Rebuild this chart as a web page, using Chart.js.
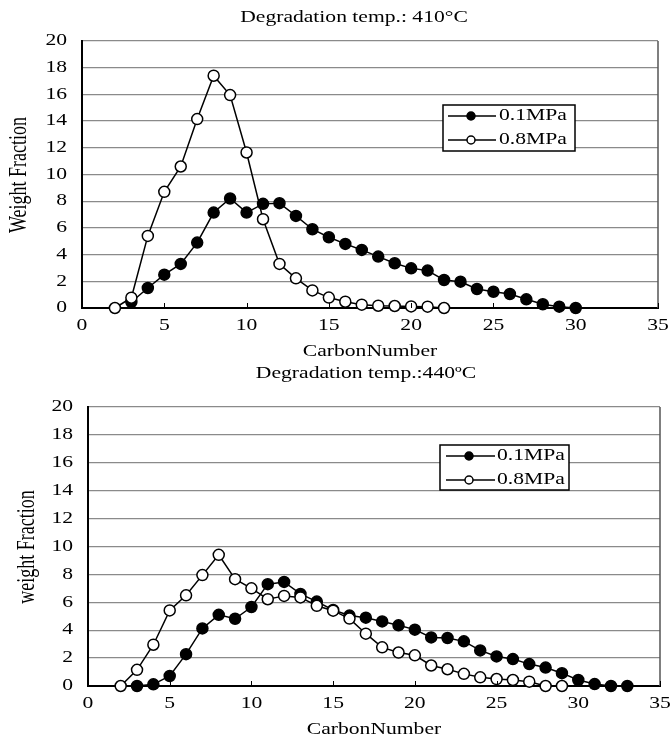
<!DOCTYPE html>
<html>
<head>
<meta charset="utf-8">
<script src="https://cdn.jsdelivr.net/npm/chart.js@4.4.1/dist/chart.umd.min.js"></script>
<style>
  html, body { margin: 0; padding: 0; background: #fff; }
  canvas { display: block; }
</style>
</head>
<body>
<canvas id="chart410" width="670" height="360"></canvas>
<canvas id="chart440" width="670" height="378"></canvas>
<script>
// Data
const seriesNames = ['0.1MPa', '0.8MPa'];
const xTicks = [0, 5, 10, 15, 20, 25, 30, 35];
const yTicks = [0, 2, 4, 6, 8, 10, 12, 14, 16, 18, 20];

// 410 °C
const carbon410Low = [3, 4, 5, 6, 7, 8, 9, 10, 11, 12, 13, 14, 15, 16, 17, 18, 19, 20, 21, 22, 23, 24, 25, 26, 27, 28, 29, 30];
const weight410Low = [0.45, 1.5, 2.5, 3.3, 4.9, 7.15, 8.2, 7.15, 7.8, 7.85, 6.9, 5.9, 5.3, 4.8, 4.35, 3.85, 3.35, 2.97, 2.8, 2.1, 1.97, 1.42, 1.22, 1.05, 0.65, 0.28, 0.1, 0.0];
const carbon410High = [2, 3, 4, 5, 6, 7, 8, 9, 10, 11, 12, 13, 14, 15, 16, 17, 18, 19, 20, 21, 22];
const weight410High = [0, 0.77, 5.4, 8.7, 10.6, 14.15, 17.4, 15.95, 11.65, 6.65, 3.3, 2.22, 1.32, 0.78, 0.47, 0.25, 0.17, 0.15, 0.12, 0.1, 0.0];

// 440 °C
const carbon440Low = [3, 4, 5, 6, 7, 8, 9, 10, 11, 12, 13, 14, 15, 16, 17, 18, 19, 20, 21, 22, 23, 24, 25, 26, 27, 28, 29, 30, 31, 32, 33];
const weight440Low = [0, 0.12, 0.72, 2.28, 4.13, 5.1, 4.82, 5.66, 7.3, 7.46, 6.6, 6.05, 5.45, 5.05, 4.9, 4.63, 4.35, 4.04, 3.48, 3.44, 3.2, 2.55, 2.12, 1.93, 1.57, 1.32, 0.92, 0.43, 0.14, 0, 0];
const carbon440High = [2, 3, 4, 5, 6, 7, 8, 9, 10, 11, 12, 13, 14, 15, 16, 17, 18, 19, 20, 21, 22, 23, 24, 25, 26, 27, 28, 29];
const weight440High = [0, 1.16, 2.96, 5.42, 6.5, 7.95, 9.4, 7.66, 7.0, 6.22, 6.46, 6.35, 5.75, 5.4, 4.83, 3.75, 2.77, 2.4, 2.2, 1.47, 1.2, 0.87, 0.62, 0.5, 0.43, 0.31, 0, 0];

const FONT = '"Liberation Serif", "Times New Roman", serif';
const SX = 1.35; // the source figure is stretched sideways

function toPoints(xs, ys) {
    return xs.map((x, i) => ({ x: x, y: ys[i] }));
}

// text drawn with the sideways stretch of the original
function stretchText(ctx, text, x, y, size, align, rotate) {
    ctx.save();
    ctx.translate(x, y);
    ctx.scale(SX, 1);
    if (rotate) ctx.rotate(-Math.PI / 2);
    ctx.font = size + 'px ' + FONT;
    ctx.fillStyle = '#000';
    ctx.textAlign = align;
    ctx.textBaseline = 'middle';
    ctx.fillText(text, 0, 0);
    ctx.restore();
}

// Titles, tick labels, inner ticks, right border and legend
const decorPlugin = {
    id: 'decor',
    afterDraw(chart, args, opts) {
        const ctx = chart.ctx;
        const area = chart.chartArea;
        const xs = chart.scales.x, ys = chart.scales.y;

        // right border
        ctx.save();
        ctx.strokeStyle = '#555';
        ctx.lineWidth = 1.5;
        ctx.beginPath();
        ctx.moveTo(area.right, area.top);
        ctx.lineTo(area.right, area.bottom);
        ctx.stroke();

        // inner tick marks on the x axis
        ctx.strokeStyle = '#000';
        ctx.lineWidth = 1;
        xTicks.forEach(v => {
            const px = Math.round(xs.getPixelForValue(v)) + 0.5;
            ctx.beginPath();
            ctx.moveTo(px, area.bottom);
            ctx.lineTo(px, area.bottom - 5);
            ctx.stroke();
        });
        ctx.restore();

        // tick labels
        yTicks.forEach(v => {
            stretchText(ctx, String(v), area.left - 15, ys.getPixelForValue(v), 16, 'right');
        });
        xTicks.forEach(v => {
            stretchText(ctx, String(v), xs.getPixelForValue(v), area.bottom + 18, 16, 'center');
        });

        // titles
        stretchText(ctx, opts.title, opts.titleX, opts.titleY, 16, 'center');
        stretchText(ctx, 'CarbonNumber', (area.left + area.right) / 2, area.bottom + 44, 16, 'center');
        stretchText(ctx, opts.yTitle, opts.yTitleX, opts.yTitleY, 18, 'center', true);

        // legend
        const lg = opts.legend;
        ctx.save();
        ctx.fillStyle = '#fff';
        ctx.fillRect(lg.x, lg.y, lg.w, lg.h);
        ctx.strokeStyle = '#000';
        ctx.lineWidth = 1.5;
        ctx.strokeRect(lg.x, lg.y, lg.w, lg.h);
        chart.data.datasets.forEach((ds, i) => {
            const row = lg.rows[i];
            ctx.beginPath();
            ctx.moveTo(lg.lineX0, row);
            ctx.lineTo(lg.lineX1, row);
            ctx.lineWidth = 1.5;
            ctx.strokeStyle = '#000';
            ctx.stroke();
            ctx.beginPath();
            ctx.arc(lg.markX, row, 4, 0, Math.PI * 2);
            ctx.fillStyle = ds.pointBackgroundColor;
            ctx.fill();
            ctx.stroke();
            stretchText(ctx, ds.label, lg.textX, row, 16, 'left');
        });
        ctx.restore();
    }
};

function makeChart(id, low, high, pad, decor) {
    return new Chart(document.getElementById(id), {
        type: 'line',
        data: {
            datasets: [
                {
                    label: seriesNames[0],
                    data: low,
                    order: 1,
                    borderColor: '#000',
                    borderWidth: 1.5,
                    pointRadius: 5.5,
                    pointBorderWidth: 1.5,
                    pointBackgroundColor: '#000',
                    pointBorderColor: '#000',
                    tension: 0,
                    clip: false
                },
                {
                    label: seriesNames[1],
                    data: high,
                    order: 0,
                    borderColor: '#000',
                    borderWidth: 1.5,
                    pointRadius: 5.5,
                    pointBorderWidth: 1.5,
                    pointBackgroundColor: '#fff',
                    pointBorderColor: '#000',
                    tension: 0,
                    clip: false
                }
            ]
        },
        options: {
            responsive: false,
            animation: false,
            events: [],
            layout: { padding: pad, autoPadding: false },
            scales: {
                x: {
                    type: 'linear',
                    min: 0, max: 35,
                    ticks: { display: false, stepSize: 5 },
                    grid: { display: false, drawTicks: false },
                    border: { display: true, color: '#000', width: 2 },
                    afterFit: s => { s.height = 0; }
                },
                y: {
                    min: 0, max: 20,
                    ticks: { display: false, stepSize: 2 },
                    grid: { color: '#8a8a8a', lineWidth: 1.3, drawTicks: false },
                    border: { display: true, color: '#000', width: 2 },
                    afterFit: s => { s.width = 0; }
                }
            },
            plugins: {
                legend: { display: false },
                title: { display: false },
                tooltip: { enabled: false },
                decor: decor
            }
        },
        plugins: [decorPlugin]
    });
}

makeChart('chart410',
    toPoints(carbon410Low, weight410Low),
    toPoints(carbon410High, weight410High),
    { left: 82, right: 12, top: 41, bottom: 52 },
    {
        title: 'Degradation temp.: 410\u00B0C', titleX: 354, titleY: 18,
        yTitle: 'Weight Fraction', yTitleX: 20, yTitleY: 175,
        legend: { x: 443, y: 105, w: 132, h: 46, rows: [116, 140], lineX0: 448, lineX1: 496, markX: 471, textX: 499 }
    });

makeChart('chart440',
    toPoints(carbon440Low, weight440Low),
    toPoints(carbon440High, weight440High),
    { left: 88, right: 10, top: 47, bottom: 52 },
    {
        title: 'Degradation temp.:440\u00BAC', titleX: 366, titleY: 14,
        yTitle: 'weight Fraction', yTitleX: 28, yTitleY: 187,
        legend: { x: 440, y: 85, w: 129, h: 45, rows: [96, 120], lineX0: 446, lineX1: 495, markX: 469, textX: 497 }
    });
</script>
</body>
</html>
